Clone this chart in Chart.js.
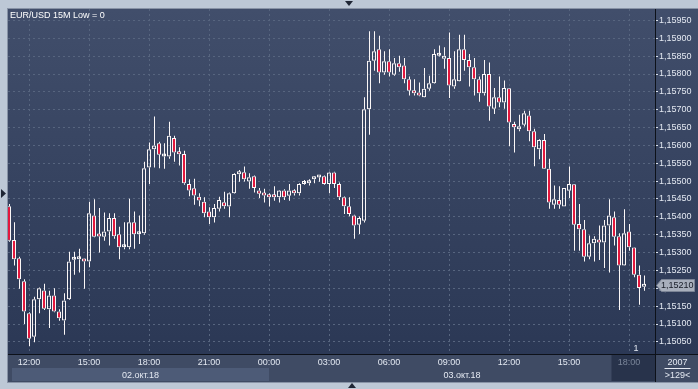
<!DOCTYPE html>
<html>
<head>
<meta charset="utf-8">
<script src="https://cdn.jsdelivr.net/npm/chart.js@4.4.1/dist/chart.umd.min.js"></script>
<style>
  html, body { margin: 0; padding: 0; background: #bdc8d6; }
  #wrap { width: 698px; height: 389px; }
</style>
</head>
<body>
<div id="wrap"><canvas id="chart" width="698" height="389"></canvas></div>
<script>
// EUR/USD 15M, 02-03 Oct 2018, one entry per candle (oldest first)
const opens = [
  1.15430,1.15335,1.15284,1.15220,1.15130,1.15064,1.15169,1.15194,1.15141,1.15180,
  1.15135,1.15110,1.15169,1.15280,1.15281,1.15281,1.15275,1.15404,1.15351,1.15344,
  1.15359,1.15397,1.15351,1.15315,1.15315,1.15385,1.15351,1.15354,1.15538,1.15589,
  1.15606,1.15569,1.15569,1.15621,1.15581,1.15576,1.15492,1.15480,1.15456,1.15442,
  1.15415,1.15399,1.15423,1.15441,1.15429,1.15466,1.15519,1.15525,1.15499,1.15514,
  1.15474,1.15467,1.15460,1.15460,1.15455,1.15474,1.15459,1.15473,1.15466,1.15492,
  1.15494,1.15505,1.15510,1.15514,1.15492,1.15524,1.15492,1.15455,1.15430,1.15404,
  1.15378,1.15389,1.15701,1.15837,1.15869,1.15804,1.15836,1.15798,1.15830,1.15824,
  1.15785,1.15753,1.15748,1.15735,1.15759,1.15774,1.15851,1.15843,1.15845,1.15765,
  1.15780,1.15869,1.15839,1.15819,1.15785,1.15746,1.15800,1.15703,1.15735,1.15720,
  1.15760,1.15660,1.15645,1.15658,1.15684,1.15640,1.15589,1.15615,1.15535,1.15434,
  1.15447,1.15429,1.15473,1.15491,1.15380,1.15365,1.15288,1.15326,1.15335,1.15328,
  1.15376,1.15399,1.15346,1.15264,1.15359,1.15314,1.15238,1.15204
];
const highs = [
  1.15436,1.15385,1.15288,1.15225,1.15133,1.15176,1.15202,1.15213,1.15193,1.15200,
  1.15141,1.15186,1.15302,1.15302,1.15311,1.15283,1.15442,1.15449,1.15425,1.15412,
  1.15410,1.15410,1.15372,1.15385,1.15451,1.15415,1.15404,1.15554,1.15608,1.15681,
  1.15610,1.15606,1.15666,1.15627,1.15595,1.15585,1.15505,1.15507,1.15466,1.15455,
  1.15427,1.15436,1.15456,1.15470,1.15468,1.15522,1.15531,1.15541,1.15522,1.15516,
  1.15481,1.15479,1.15466,1.15486,1.15475,1.15477,1.15492,1.15477,1.15494,1.15503,
  1.15505,1.15513,1.15513,1.15516,1.15526,1.15526,1.15496,1.15457,1.15455,1.15406,
  1.15401,1.15735,1.15920,1.15920,1.15907,1.15864,1.15869,1.15845,1.15851,1.15845,
  1.15793,1.15785,1.15776,1.15817,1.15795,1.15869,1.15880,1.15875,1.15916,1.15864,
  1.15910,1.15910,1.15856,1.15845,1.15793,1.15839,1.15832,1.15761,1.15793,1.15782,
  1.15761,1.15666,1.15686,1.15697,1.15697,1.15647,1.15617,1.15632,1.15563,1.15488,
  1.15486,1.15481,1.15541,1.15492,1.15436,1.15391,1.15348,1.15346,1.15376,1.15391,
  1.15449,1.15415,1.15354,1.15421,1.15380,1.15315,1.15264,1.15236
];
const lows = [
  1.15330,1.15264,1.15199,1.15100,1.15038,1.15049,1.15130,1.15139,1.15089,1.15133,
  1.15109,1.15070,1.15167,1.15238,1.15244,1.15199,1.15259,1.15343,1.15300,1.15333,
  1.15320,1.15339,1.15281,1.15309,1.15309,1.15311,1.15324,1.15350,1.15492,1.15538,
  1.15536,1.15535,1.15563,1.15554,1.15544,1.15490,1.15458,1.15434,1.15430,1.15399,
  1.15380,1.15384,1.15415,1.15423,1.15399,1.15465,1.15498,1.15499,1.15479,1.15468,
  1.15453,1.15440,1.15429,1.15445,1.15440,1.15447,1.15445,1.15460,1.15460,1.15490,
  1.15488,1.15494,1.15498,1.15490,1.15466,1.15481,1.15447,1.15408,1.15402,1.15339,
  1.15352,1.15384,1.15630,1.15809,1.15774,1.15798,1.15793,1.15795,1.15806,1.15774,
  1.15740,1.15740,1.15738,1.15734,1.15753,1.15773,1.15849,1.15815,1.15733,1.15759,
  1.15779,1.15809,1.15765,1.15740,1.15722,1.15740,1.15669,1.15688,1.15707,1.15703,
  1.15598,1.15580,1.15640,1.15653,1.15612,1.15542,1.15561,1.15534,1.15423,1.15423,
  1.15423,1.15429,1.15453,1.15305,1.15305,1.15275,1.15281,1.15275,1.15279,1.15257,
  1.15244,1.15320,1.15139,1.15263,1.15305,1.15231,1.15154,1.15193
];
const closes = [
  1.15333,1.15281,1.15225,1.15135,1.15059,1.15169,1.15200,1.15143,1.15180,1.15135,
  1.15116,1.15166,1.15275,1.15282,1.15284,1.15275,1.15410,1.15344,1.15345,1.15359,
  1.15397,1.15346,1.15315,1.15316,1.15385,1.15351,1.15352,1.15536,1.15589,1.15600,
  1.15574,1.15570,1.15627,1.15580,1.15575,1.15494,1.15474,1.15460,1.15446,1.15410,
  1.15399,1.15425,1.15447,1.15430,1.15466,1.15520,1.15526,1.15505,1.15511,1.15481,
  1.15465,1.15460,1.15455,1.15455,1.15474,1.15455,1.15474,1.15466,1.15492,1.15495,
  1.15500,1.15511,1.15511,1.15492,1.15524,1.15492,1.15455,1.15430,1.15408,1.15376,
  1.15397,1.15701,1.15837,1.15864,1.15804,1.15836,1.15804,1.15830,1.15819,1.15785,
  1.15753,1.15746,1.15740,1.15759,1.15774,1.15856,1.15852,1.15851,1.15768,1.15785,
  1.15869,1.15839,1.15819,1.15785,1.15746,1.15800,1.15709,1.15735,1.15720,1.15761,
  1.15664,1.15651,1.15654,1.15690,1.15640,1.15595,1.15615,1.15535,1.15440,1.15449,
  1.15434,1.15481,1.15492,1.15378,1.15365,1.15288,1.15326,1.15339,1.15328,1.15376,
  1.15404,1.15344,1.15264,1.15354,1.15315,1.15238,1.15201,1.15210
];

const timeTickIndex = [4, 16, 28, 40, 52, 64, 76, 88, 100, 112, 124];
const timeLabels = ["12:00", "15:00", "18:00", "21:00", "00:00", "03:00",
                    "06:00", "09:00", "12:00", "15:00", "18:00"];
const priceTicks = [1.1505, 1.1510, 1.1515, 1.1520, 1.1525, 1.1530, 1.1535, 1.1540, 1.1545,
                    1.1550, 1.1555, 1.1560, 1.1565, 1.1570, 1.1575, 1.1580, 1.1585, 1.1590, 1.1595];
const dateLabels = ["02.окт.18", "03.окт.18"];
const dayStartIndex = 52;      // 00:00 of 03 Oct
const sessionStartIndex = 120.5;
const title = "EUR/USD 15M Low = 0";

const FONT = "'Liberation Sans', Arial, sans-serif";
const RED = "#e3173d";
const WHITE = "#fbf7f7";
const GRID = "#57657f";
const TEXT = "#e4e9f2";
const LINE = "#0d1119";

const bodies = opens.map((o, i) => ({ x: i, y: [o, closes[i]] }));
const upperWicks = highs.map((h, i) => ({ x: i, y: [Math.max(opens[i], closes[i]), h] }));
const lowerWicks = lows.map((l, i) => ({ x: i, y: [l, Math.min(opens[i], closes[i])] }));

function tri(ctx, pts) {
  ctx.beginPath();
  ctx.moveTo(pts[0], pts[1]);
  ctx.lineTo(pts[2], pts[3]);
  ctx.lineTo(pts[4], pts[5]);
  ctx.closePath();
  ctx.fill();
}

// 1px wicks sit on a whole pixel column inside the 4px body
const wickShift = {
  id: "wickShift",
  beforeDatasetDraw(chart, args) {
    if (args.index > 0) { chart.ctx.save(); chart.ctx.translate(0.5, 0); }
  },
  afterDatasetDraw(chart, args) {
    if (args.index > 0) chart.ctx.restore();
  }
};

const chrome = {
  id: "chrome",
  beforeDraw(chart) {
    const { ctx, chartArea: a, scales: { x } } = chart;
    const W = chart.width;
    ctx.save();
    ctx.fillStyle = "#bdc8d6";
    ctx.fillRect(0, 0, W, chart.height);

    const g = ctx.createLinearGradient(0, a.top, 0, a.bottom);
    g.addColorStop(0, "#414e6b");
    g.addColorStop(1, "#2b3855");
    ctx.fillStyle = g;
    ctx.fillRect(a.left, a.top, W - a.left, a.bottom - a.top);

    // time axis strip
    ctx.fillStyle = "#3f4b64";
    ctx.fillRect(a.left, a.bottom, W - a.left, 382 - a.bottom);
    ctx.fillStyle = "#4d5b77";
    const dayX = x.getPixelForValue(dayStartIndex);
    ctx.fillRect(a.left + 4, 368, dayX - a.left - 4, 13);
    const sx = x.getPixelForValue(sessionStartIndex);
    ctx.fillStyle = "#28334b";
    ctx.fillRect(sx, a.bottom + 1, a.right - sx, 381 - a.bottom - 1);

    // outline
    ctx.strokeStyle = "#8893a6";
    ctx.lineWidth = 1;
    ctx.strokeRect(a.left - 0.5, a.top - 0.5, W - a.left + 1, 382 - a.top + 1);

    // frame arrows
    ctx.fillStyle = "#1f2635";
    tri(ctx, [345, 1, 353, 1, 349, 6]);
    tri(ctx, [348, 388, 356, 388, 352, 383]);
    tri(ctx, [1, 189, 1, 198, 6, 193.5]);
    ctx.restore();
  },
  afterDraw(chart) {
    const { ctx, chartArea: a, scales: { x, y } } = chart;
    const W = chart.width;
    ctx.save();
    ctx.fillStyle = LINE;
    ctx.fillRect(a.left, a.bottom, W - a.left, 1);
    ctx.fillRect(a.right, a.top, 1, 382 - a.top);

    ctx.font = "9px " + FONT;
    ctx.textBaseline = "alphabetic";
    ctx.fillStyle = "#ffffff";
    ctx.textAlign = "left";
    ctx.fillText(title, 10, 18);

    ctx.fillStyle = TEXT;
    ctx.textAlign = "center";
    const dayX = x.getPixelForValue(dayStartIndex);
    ctx.fillText(dateLabels[0], (a.left + 4 + dayX) / 2, 378);
    ctx.fillText(dateLabels[1], (dayX + a.right) / 2, 378);

    ctx.fillText("1", 636, 351);

    // corner box
    const cx = (a.right + W) / 2 + 1;
    ctx.fillText("2007", cx, 365);
    ctx.fillRect(cx - 13, 368, 26, 1);
    ctx.fillText(">129<", cx, 378);

    // last price marker
    const last = closes[closes.length - 1];
    const py = Math.round(y.getPixelForValue(last)) + 0.5;
    ctx.beginPath();
    ctx.moveTo(a.right + 1.5, py);
    ctx.lineTo(a.right + 6.5, py - 6);
    ctx.lineTo(W - 3.5, py - 6);
    ctx.lineTo(W - 3.5, py + 6);
    ctx.lineTo(a.right + 6.5, py + 6);
    ctx.closePath();
    ctx.fillStyle = "#a8afbc";
    ctx.fill();
    ctx.strokeStyle = "#7b8496";
    ctx.stroke();
    ctx.fillStyle = "#161b26";
    ctx.textAlign = "left";
    ctx.textBaseline = "middle";
    ctx.fillText(last.toFixed(5).replace(".", ","), a.right + 6, py + 0.5);
    ctx.restore();
  }
};

new Chart(document.getElementById("chart"), {
  type: "bar",
  data: {
    datasets: [
      {
        data: bodies,
        backgroundColor: ctx => {
          const i = ctx.dataIndex;
          return closes[i] < opens[i] ? RED : "rgba(0,0,0,0)";
        },
        borderColor: WHITE,
        borderWidth: 1,
        borderSkipped: false,
        barThickness: 4,
        minBarLength: 3,
        inflateAmount: 0,
        grouped: false,
      },
      {
        data: upperWicks,
        backgroundColor: WHITE,
        borderWidth: 0,
        barThickness: 1,
        inflateAmount: 0,
        grouped: false,
      },
      {
        data: lowerWicks,
        backgroundColor: WHITE,
        borderWidth: 0,
        barThickness: 1,
        inflateAmount: 0,
        grouped: false,
      },
    ],
  },
  options: {
    responsive: false,
    animation: false,
    devicePixelRatio: 1,
    layout: { padding: { left: 8, top: 9, right: 0, bottom: 0 } },
    plugins: { legend: { display: false }, tooltip: { enabled: false } },
    scales: {
      x: {
        type: "linear",
        min: -0.2,
        max: 129.2,
        offset: false,
        afterFit(s) { s.height = 35; },
        afterBuildTicks(s) { s.ticks = timeTickIndex.map(v => ({ value: v })); },
        ticks: {
          autoSkip: false,
          maxRotation: 0,
          padding: 3,
          font: { family: FONT, size: 9 },
          color: c => (c.index === timeLabels.length - 1 ? "#7b869a" : TEXT),
          callback: (v, i) => timeLabels[i],
        },
        grid: { color: GRID, drawTicks: false, offset: false },
        border: { display: false, dash: [2, 3] },
      },
      y: {
        position: "right",
        min: 1.15016,
        max: 1.15982,
        afterFit(s) { s.width = 43; },
        afterBuildTicks(s) { s.ticks = priceTicks.map(v => ({ value: v })); },
        ticks: {
          padding: 1,
          font: { family: FONT, size: 9 },
          color: TEXT,
          callback: v => v.toFixed(5).replace(".", ","),
        },
        grid: { color: GRID, tickColor: "#d8dfea", tickLength: 3 },
        border: { display: false, dash: [2, 3] },
      },
    },
  },
  plugins: [chrome, wickShift],
});
</script>
</body>
</html>
